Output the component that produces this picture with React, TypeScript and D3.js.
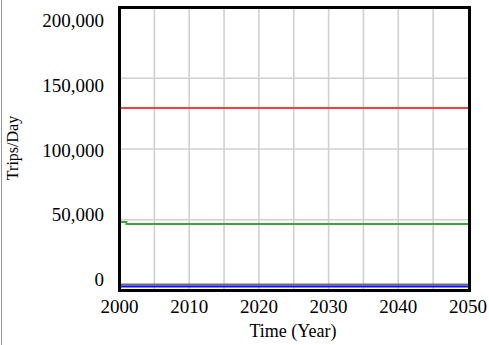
import React from "react";
import * as d3 from "d3";

const years = [2000, 2001, 2010, 2020, 2030, 2040, 2050];
const seriesRed = [129000, 129000, 129000, 129000, 129000, 129000, 129000];
const seriesGreen = [48400, 47000, 47000, 47000, 47000, 47000, 47000];
const seriesGray = [4300, 4300, 4300, 4300, 4300, 4300, 4300];
const seriesBlue = [2800, 2800, 2800, 2800, 2800, 2800, 2800];

const xTicks = [2000, 2010, 2020, 2030, 2040, 2050];
const xGrid = [2005, 2010, 2015, 2020, 2025, 2030, 2035, 2040, 2045];
const yTicks = [0, 50000, 100000, 150000, 200000];
const yGrid = [50000, 100000, 150000];

const W = 489;
const H = 345;

export default function App() {
  const x = d3.scaleLinear().domain([2000, 2050]).range([119.5, 468]);
  const y = d3.scaleLinear().domain([0, 200000]).range([290.5, 7.5]);
  const yLabel = d3.scaleLinear().domain([0, 200000]).range([286, 27]);
  const fmt = d3.format(",");

  const mk = (vals: number[]) =>
    d3
      .line<number>()
      .x((_, i) => x(years[i]))
      .y((v) => y(v))
      .curve(d3.curveStepAfter)(vals) || "";

  const series = [
    { vals: seriesRed, color: "#ff3b3b" },
    { vals: seriesGreen, color: "#3ca33c" },
    { vals: seriesGray, color: "#6e6e6e" },
    { vals: seriesBlue, color: "#1010ff" },
  ];

  return (
    <svg
      width={W}
      height={H}
      style={{ position: "absolute", left: 0, top: 0, background: "#fff" }}
      fontFamily="'Liberation Serif', 'Times New Roman', serif"
    >
      <rect x={0} y={0} width={W} height={H} fill="#fff" />
      <line x1={1.5} x2={1.5} y1={0} y2={H} stroke="#999" strokeWidth={1} />
      {xGrid.map((t) => (
        <line key={"xg" + t} x1={x(t)} x2={x(t)} y1={y(200000)} y2={y(0)} stroke="#d0d0d0" strokeWidth={1.6} />
      ))}
      {yGrid.map((t) => (
        <line key={"yg" + t} x1={x(2000)} x2={x(2050)} y1={y(t)} y2={y(t)} stroke="#d0d0d0" strokeWidth={1.6} />
      ))}
      {series.map((s, i) => (
        <path key={i} d={mk(s.vals)} fill="none" stroke={s.color} strokeWidth={2} />
      ))}
      <rect
        x={x(2000)}
        y={y(200000)}
        width={x(2050) - x(2000) + 1.5}
        height={y(0) - y(200000)}
        fill="none"
        stroke="#000"
        strokeWidth={3}
      />
      {yTicks.map((t) => (
        <text key={"yl" + t} x={104} y={yLabel(t)} textAnchor="end" fontSize={19} fill="#000">
          {fmt(t)}
        </text>
      ))}
      {xTicks.map((t) => (
        <text key={"xl" + t} x={x(t)} y={313} textAnchor="middle" fontSize={19} fill="#000">
          {t}
        </text>
      ))}
      <text x={293} y={337} textAnchor="middle" fontSize={18} fill="#000">
        Time (Year)
      </text>
      <text
        transform={`translate(18,148) rotate(-90)`}
        textAnchor="middle"
        fontSize={16}
        fill="#000"
      >
        Trips/Day
      </text>
    </svg>
  );
}
